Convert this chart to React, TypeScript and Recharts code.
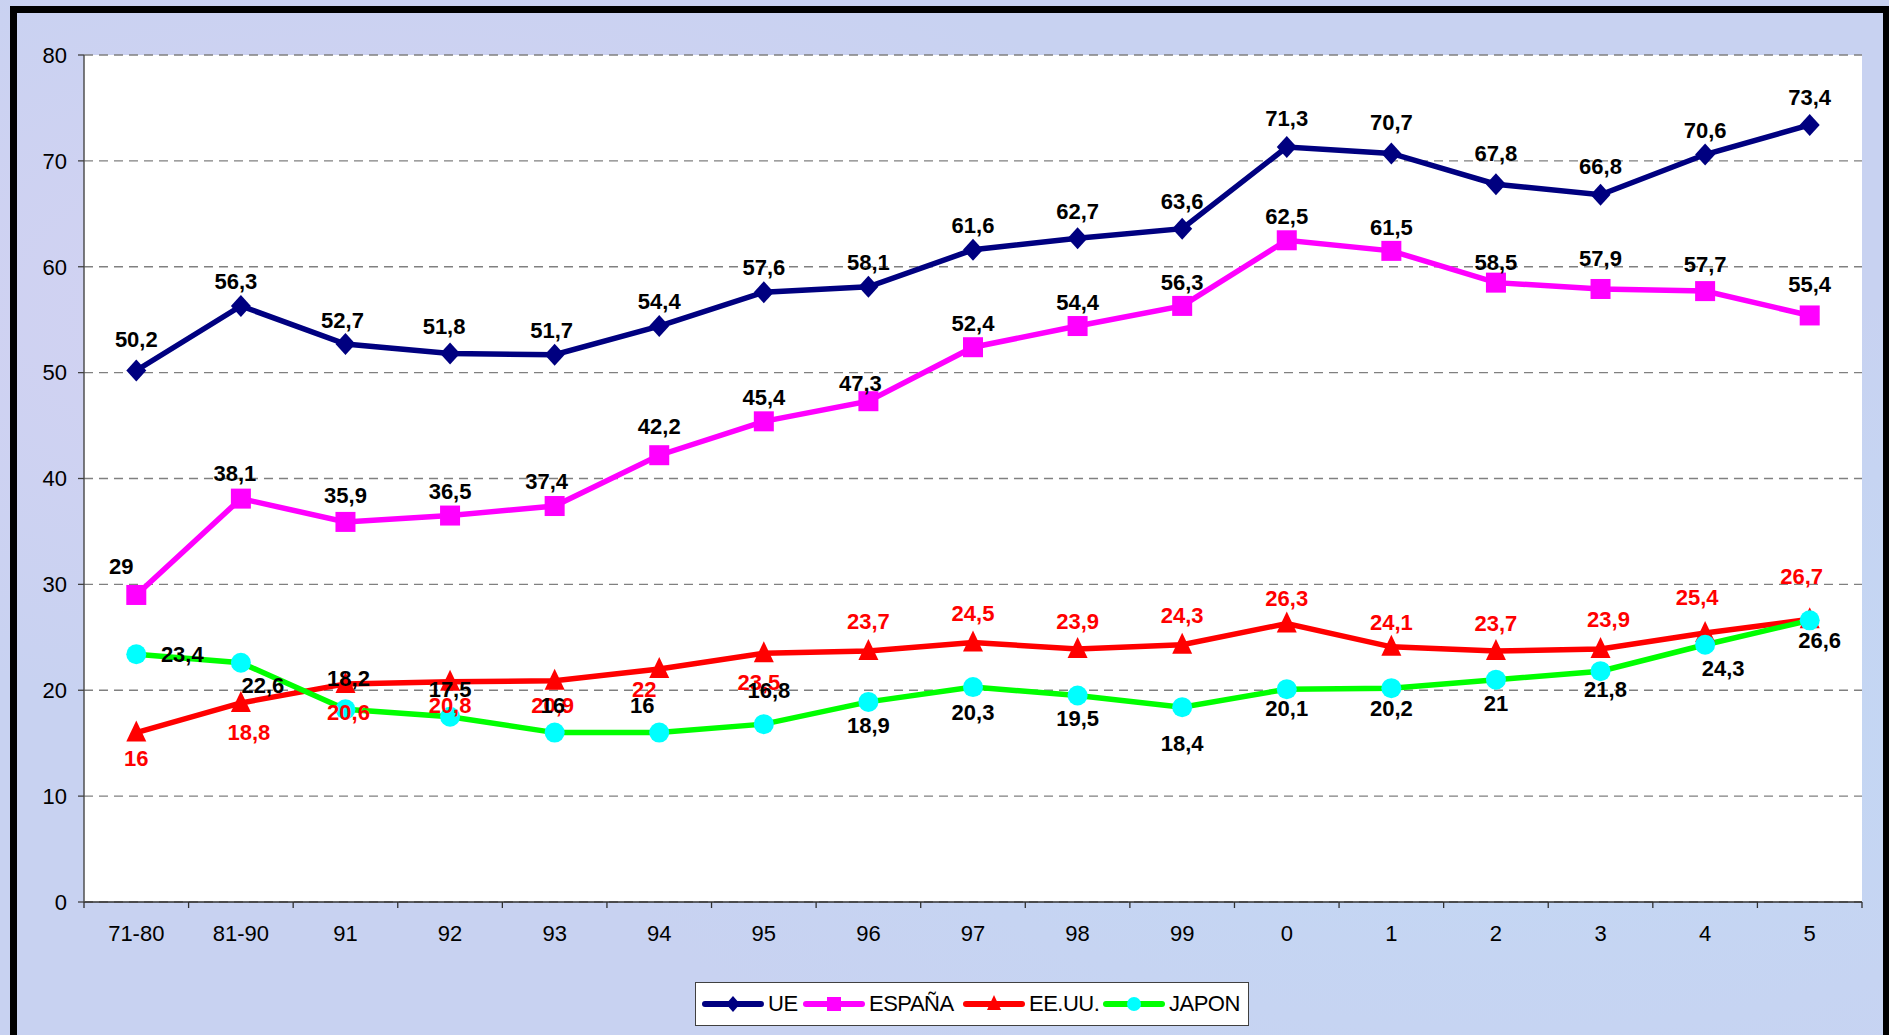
import React from 'react';
import {
  LineChart,
  Line,
  XAxis,
  YAxis,
  CartesianGrid,
  Legend,
  LabelList,
} from 'recharts';

// ---------- data ----------
const categories = ['71-80', '81-90', '91', '92', '93', '94', '95', '96', '97', '98', '99', '0', '1', '2', '3', '4', '5'];
const ueValues = [50.2, 56.3, 52.7, 51.8, 51.7, 54.4, 57.6, 58.1, 61.6, 62.7, 63.6, 71.3, 70.7, 67.8, 66.8, 70.6, 73.4];
const espanaValues = [29, 38.1, 35.9, 36.5, 37.4, 42.2, 45.4, 47.3, 52.4, 54.4, 56.3, 62.5, 61.5, 58.5, 57.9, 57.7, 55.4];
const eeuuValues = [16, 18.8, 20.6, 20.8, 20.9, 22, 23.5, 23.7, 24.5, 23.9, 24.3, 26.3, 24.1, 23.7, 23.9, 25.4, 26.7];
const japonValues = [23.4, 22.6, 18.2, 17.5, 16, 16, 16.8, 18.9, 20.3, 19.5, 18.4, 20.1, 20.2, 21, 21.8, 24.3, 26.6];
const yTicks = [0, 10, 20, 30, 40, 50, 60, 70, 80];
const seriesNames = ['UE', 'ESPAÑA', 'EE.UU.', 'JAPON'];

const data = categories.map((c, i) => ({
  cat: c,
  ue: ueValues[i],
  es: espanaValues[i],
  us: eeuuValues[i],
  jp: japonValues[i],
}));

// ---------- style / layout ----------
const W = 1889;
const H = 1035;
const PLOT_LEFT = 84;
const PLOT_RIGHT = 1862;
const BAND = (PLOT_RIGHT - PLOT_LEFT) / categories.length;
const FONT = '"Liberation Sans", Arial, Helvetica, sans-serif';

const NAVY = '#000080';
const MAGENTA = '#FF00FF';
const RED = '#FF0000';
const GREEN = '#00FF00';
const CYAN = '#00FFFF';

// label offsets (dx, dy) of the label centre from the point
const ueOffsets: [number, number][] = [
  [0, -31], [-5, -25], [-3, -24], [-6, -27], [-3, -25], [0, -25], [0, -25], [0, -25], [0, -25],
  [0, -27], [0, -28], [0, -29], [0, -31], [0, -31], [0, -29], [0, -24], [0, -28],
];
const esOffsets: [number, number][] = [
  [-15, -29], [-6, -26], [0, -27], [0, -24], [-8, -25], [0, -29], [0, -24], [-8, -18], [0, -24],
  [0, -24], [0, -24], [0, -24], [0, -24], [0, -21], [0, -31], [0, -27], [0, -31],
];
const usOffsets: [number, number][] = [
  [0, 25], [8, 29], [3, 28], [0, 23], [-2, 24], [-15, 20], [-5, 29], [0, -30], [0, -30],
  [0, -28], [0, -30], [0, -25], [0, -25], [0, -28], [8, -30], [-8, -36], [-8, -43],
];
const jpOffsets: [number, number][] = [
  [46, 0], [22, 22], [3, -31], [0, -28], [-2, -28], [-17, -28], [5, -34], [0, 23], [0, 25],
  [0, 23], [0, 36], [0, 19], [0, 20], [0, 23], [5, 18], [18, 23], [10, 20],
];

const fmt = (v: number) => String(v).replace('.', ',');

const makeLabel = (offsets: [number, number][], color: string) => (props: any) => {
  const { x, y, value, index } = props;
  if (x == null || y == null) return null;
  const [dx, dy] = offsets[index] || [0, -27];
  return (
    <text
      key={`lbl-${color}-${index}`}
      x={x + dx}
      y={y + dy}
      dy="0.36em"
      textAnchor="middle"
      fontFamily={FONT}
      fontWeight="bold"
      fontSize={22}
      fill={color}
    >
      {fmt(value)}
    </text>
  );
};

const Diamond = (props: any) => {
  const { cx, cy, index } = props;
  if (cx == null || cy == null) return null;
  const w = 10, h = 11;
  return (
    <polygon
      key={`ue-${index}`}
      points={`${cx},${cy - h} ${cx + w},${cy} ${cx},${cy + h} ${cx - w},${cy}`}
      fill={NAVY}
    />
  );
};
const Square = (props: any) => {
  const { cx, cy, index } = props;
  if (cx == null || cy == null) return null;
  return <rect key={`es-${index}`} x={cx - 10} y={cy - 10} width={20} height={20} fill={MAGENTA} />;
};
const Triangle = (props: any) => {
  const { cx, cy, index } = props;
  if (cx == null || cy == null) return null;
  return (
    <polygon
      key={`us-${index}`}
      points={`${cx},${cy - 12} ${cx + 10},${cy + 9} ${cx - 10},${cy + 9}`}
      fill={RED}
    />
  );
};
const Circle = (props: any) => {
  const { cx, cy, index } = props;
  if (cx == null || cy == null) return null;
  return <circle key={`jp-${index}`} cx={cx} cy={cy} r={10} fill={CYAN} />;
};

const XTick = (props: any) => {
  const { x, y, payload, index } = props;
  const axisY = y - 8;
  const last = index === categories.length - 1;
  return (
    <g>
      <line x1={x - BAND / 2} x2={x - BAND / 2} y1={axisY} y2={axisY + 6} stroke="#303030" strokeWidth={1.3} />
      {last && (
        <line x1={x + BAND / 2} x2={x + BAND / 2} y1={axisY} y2={axisY + 6} stroke="#303030" strokeWidth={1.3} />
      )}
      <text x={x} y={y + 31} textAnchor="middle" fontFamily={FONT} fontSize={22} fill="#000">
        {payload.value}
      </text>
    </g>
  );
};

const legendMarkers = [
  (cx: number, cy: number) => (
    <polygon points={`${cx},${cy - 8} ${cx + 7},${cy} ${cx},${cy + 8} ${cx - 7},${cy}`} fill={NAVY} />
  ),
  (cx: number, cy: number) => <rect x={cx - 7} y={cy - 7} width={14} height={14} fill={MAGENTA} />,
  (cx: number, cy: number) => (
    <polygon points={`${cx},${cy - 9} ${cx + 7},${cy + 6} ${cx - 7},${cy + 6}`} fill={RED} />
  ),
  (cx: number, cy: number) => <circle cx={cx} cy={cy} r={7} fill={CYAN} />,
];
const legendLineColors = [NAVY, MAGENTA, RED, GREEN];
const legendItemLeft = [6, 107, 267, 407];

const LegendBox = () => (
  <div
    style={{
      position: 'relative',
      width: 554,
      height: 44,
      boxSizing: 'border-box',
      background: '#fff',
      border: '1.5px solid #404040',
      fontFamily: FONT,
    }}
  >
    {seriesNames.map((name, i) => (
      <div
        key={name}
        style={{ position: 'absolute', left: legendItemLeft[i], top: 0, height: 41, display: 'flex', alignItems: 'center' }}
      >
        <svg width={62} height={24} style={{ display: 'block' }}>
          <line x1={3} x2={59} y1={12} y2={12} stroke={legendLineColors[i]} strokeWidth={6} strokeLinecap="round" />
          {legendMarkers[i](31, 12)}
        </svg>
        <span style={{ marginLeft: 4, fontSize: 22, color: '#000', letterSpacing: -0.5, lineHeight: '24px' }}>{name}</span>
      </div>
    ))}
  </div>
);

export default function App() {
  return (
    <div
      style={{
        position: 'absolute',
        left: 0,
        top: 0,
        width: W,
        height: H,
        overflow: 'hidden',
        background:
          'radial-gradient(ellipse at 20% 30%, #d4d2f2 0%, rgba(212,210,242,0) 40%), radial-gradient(ellipse at 80% 70%, #c2d8f4 0%, rgba(194,216,244,0) 45%), #c8d2f1',
      }}
    >
      <div
        style={{
          position: 'absolute',
          left: 10,
          top: 6,
          width: 1866,
          height: 1100,
          border: '7px solid #000',
          boxSizing: 'content-box',
        }}
      />
      <div style={{ position: 'absolute', left: 0, top: 0 }}>
        <LineChart
          width={W}
          height={H}
          data={data}
          margin={{ top: 55, right: W - PLOT_RIGHT, left: 0, bottom: 93 }}
        >
          <CartesianGrid
            horizontal
            vertical={false}
            stroke="#808080"
            strokeDasharray="9 6"
            strokeWidth={1.3}
            fill="#ffffff"
            fillOpacity={1}
          />
          <XAxis
            dataKey="cat"
            height={40}
            interval={0}
            padding={{ left: BAND / 2, right: BAND / 2 }}
            tickLine={false}
            axisLine={{ stroke: '#303030', strokeWidth: 1.5 }}
            tick={<XTick />}
          />
          <XAxis
            xAxisId="top"
            dataKey="cat"
            orientation="top"
            height={0}
            padding={{ left: BAND / 2, right: BAND / 2 }}
            tick={false}
            tickLine={false}
            axisLine={{ stroke: '#a0a0a0', strokeWidth: 1.5 }}
          />
          <YAxis
            width={PLOT_LEFT}
            domain={[0, 80]}
            ticks={yTicks}
            interval={0}
            tickSize={6}
            tickMargin={11}
            tickLine={{ stroke: '#404040', strokeWidth: 1.3 }}
            axisLine={{ stroke: '#505050', strokeWidth: 1.5 }}
            tick={{ fill: '#000', fontSize: 22, fontFamily: FONT }}
          />
          <YAxis
            yAxisId="right"
            orientation="right"
            width={0}
            domain={[0, 80]}
            tick={false}
            tickLine={false}
            axisLine={{ stroke: '#a0a0a0', strokeWidth: 1.5 }}
          />
          <Legend
            layout="horizontal"
            verticalAlign="middle"
            align="center"
            content={() => <LegendBox />}
            wrapperStyle={{ position: 'absolute', left: 695, top: 982, width: 554, height: 44, margin: 0, padding: 0 }}
          />

          <Line type="linear" dataKey="ue" name="UE" stroke={NAVY} strokeWidth={5.5} dot={Diamond} activeDot={false} isAnimationActive={false} />
          <Line type="linear" dataKey="es" name="ESPAÑA" stroke={MAGENTA} strokeWidth={5.5} dot={Square} activeDot={false} isAnimationActive={false} />
          <Line type="linear" dataKey="us" name="EE.UU." stroke={RED} strokeWidth={5.5} dot={Triangle} activeDot={false} isAnimationActive={false} />
          <Line type="linear" dataKey="jp" name="JAPON" stroke={GREEN} strokeWidth={5.5} dot={Circle} activeDot={false} isAnimationActive={false} />

          <Line dataKey="ue" stroke="none" dot={false} activeDot={false} legendType="none" isAnimationActive={false}>
            <LabelList dataKey="ue" content={makeLabel(ueOffsets, '#000')} />
          </Line>
          <Line dataKey="es" stroke="none" dot={false} activeDot={false} legendType="none" isAnimationActive={false}>
            <LabelList dataKey="es" content={makeLabel(esOffsets, '#000')} />
          </Line>
          <Line dataKey="us" stroke="none" dot={false} activeDot={false} legendType="none" isAnimationActive={false}>
            <LabelList dataKey="us" content={makeLabel(usOffsets, RED)} />
          </Line>
          <Line dataKey="jp" stroke="none" dot={false} activeDot={false} legendType="none" isAnimationActive={false}>
            <LabelList dataKey="jp" content={makeLabel(jpOffsets, '#000')} />
          </Line>
        </LineChart>
      </div>
    </div>
  );
}
